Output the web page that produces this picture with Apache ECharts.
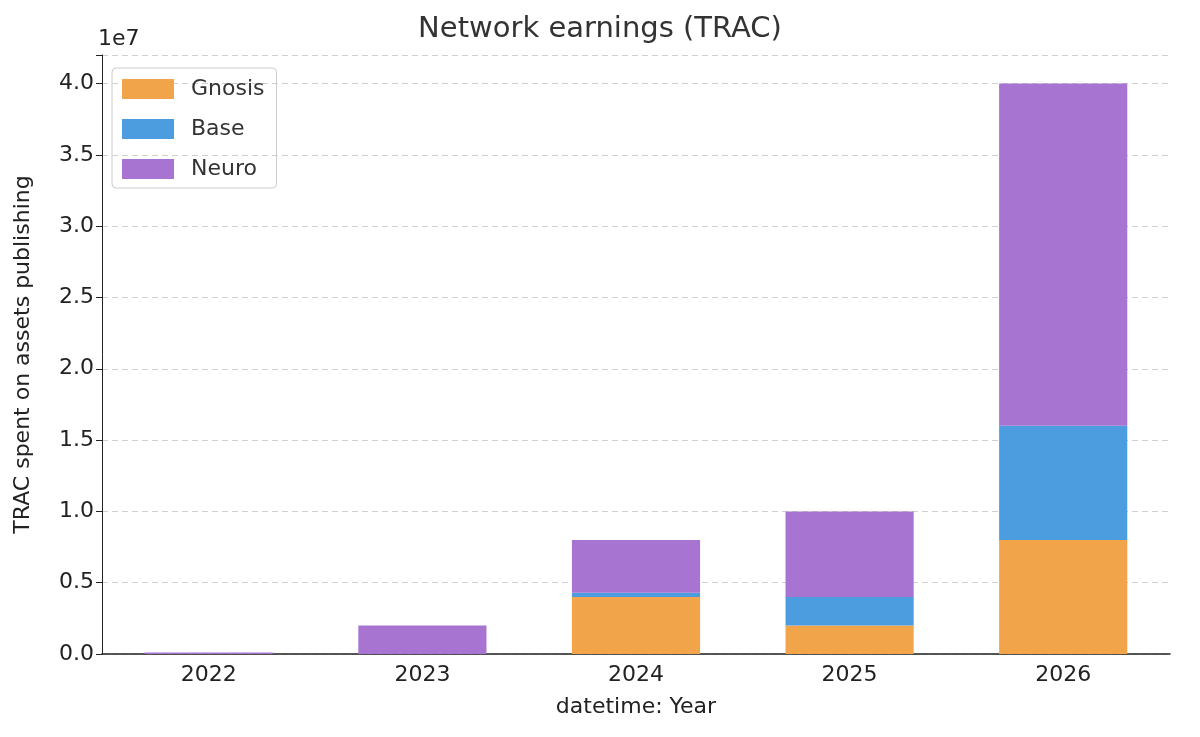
<!DOCTYPE html>
<html>
<head>
<meta charset="utf-8">
<script src="https://cdn.jsdelivr.net/npm/echarts@6/dist/echarts.min.js"></script>
<style>html,body{margin:0;background:#fff}#chart{width:1200px;height:737px}</style>
</head>
<body>
<div id="chart"></div>
<script>
var years = ['2022', '2023', '2024', '2025', '2026'];
var gnosis = [0, 0, 4000000, 2000000, 8000000];
var base = [0, 0, 300000, 2000000, 8000000];
var neuro = [100000, 2000000, 3700000, 6000000, 24000000];

var myChart = echarts.init(document.getElementById('chart'));
var font = 'DejaVu Sans';
function bar(name, data, color) {
  return { name: name, type: 'bar', stack: 'total', data: data, barWidth: '60%', itemStyle: { color: color } };
}
var option = {
  animation: false,
  textStyle: { fontFamily: font },
  title: { text: 'Network earnings (TRAC)', left: 'center', top: 10, textStyle: { fontFamily: font, fontSize: 29, fontWeight: 'normal', color: '#333' } },
  graphic: [{ type: 'text', left: 98, top: 28, style: { text: '1e7', font: '22px DejaVu Sans', fill: '#222' } }],
  legend: {
    orient: 'vertical', left: 112, top: 68, itemWidth: 52, itemHeight: 20, itemGap: 18,
    textStyle: { fontSize: 22, color: '#333', fontFamily: font, padding: [0, 0, 0, 12] },
    borderColor: '#ccc', borderWidth: 1, borderRadius: 4, padding: [10, 12, 8, 10],
    icon: 'rect'
  },
  grid: { left: 102, right: 30, top: 55, bottom: 83 },
  xAxis: {
    type: 'category', data: years, name: 'datetime: Year', nameLocation: 'middle', nameGap: 42,
    nameTextStyle: { fontSize: 22, color: '#222' },
    axisLine: { lineStyle: { color: '#222', width: 1.5 } },
    axisTick: { alignWithLabel: true, length: 6, lineStyle: { color: '#222' } },
    axisLabel: { fontSize: 22, color: '#222', margin: 10 }
  },
  yAxis: {
    type: 'value', min: 0, max: 42000000, interval: 5000000,
    name: 'TRAC spent on assets publishing', nameLocation: 'middle', nameGap: 68,
    nameTextStyle: { fontSize: 22, color: '#222' },
    axisLine: { show: true, lineStyle: { color: '#222', width: 1 } },
    axisTick: { show: true, length: 6, lineStyle: { color: '#222' } },
    axisLabel: { fontSize: 22, color: '#222', formatter: function (v) { return v > 41000000 ? '' : (v / 1e7).toFixed(1); } },
    splitLine: { lineStyle: { color: '#d0d0d0', type: [6, 4] } }
  },
  series: [
    bar('Gnosis', gnosis, '#f2a44b'),
    bar('Base', base, '#4b9de0'),
    bar('Neuro', neuro, '#a775d1')
  ]
};
myChart.setOption(option);
</script>
</body>
</html>
